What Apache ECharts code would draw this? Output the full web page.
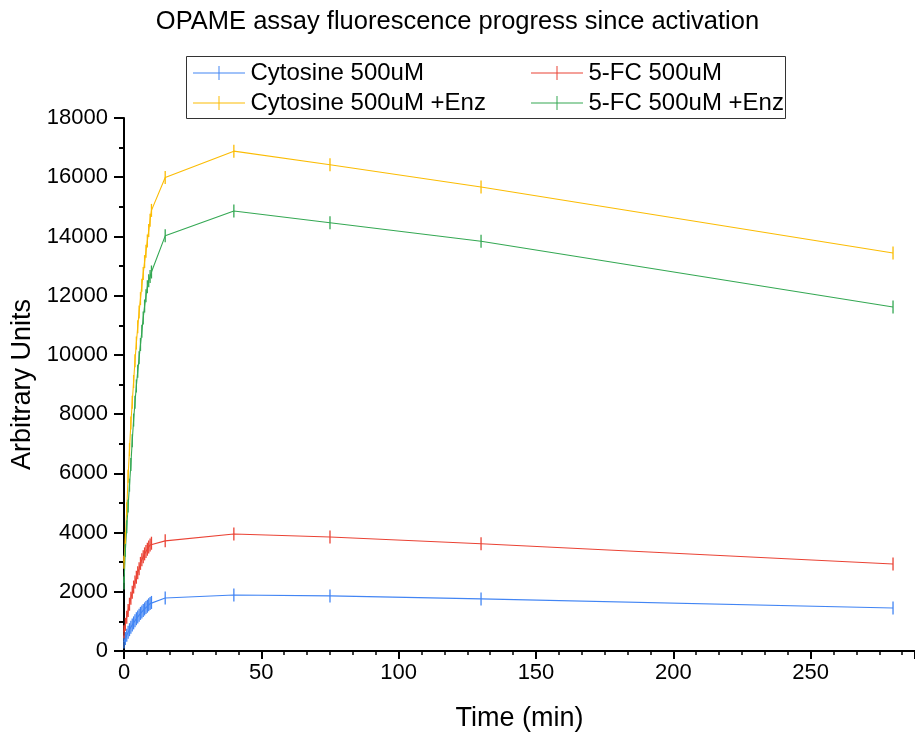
<!DOCTYPE html>
<html>
<head>
<meta charset="utf-8">
<script src="https://cdn.jsdelivr.net/npm/echarts@6/dist/echarts.min.js"></script>
<style>
  html, body { margin: 0; padding: 0; background: #fff; }
  #chart { width: 915px; height: 738px; }
</style>
</head>
<body>
<div id="chart"></div>
<script>
// sampling times (min): every 0.5 min for the first 10 min, then sparse reads
const time = [0, 0.5, 1, 1.5, 2, 2.5, 3, 3.5, 4, 4.5, 5, 5.5, 6, 6.5, 7, 7.5, 8, 8.5, 9, 9.5, 10, 15, 40, 75, 130, 280];

const cytosine    = [300, 420, 530, 630, 720, 800, 880, 950, 1020, 1090, 1150, 1210, 1270, 1320, 1370, 1420, 1470, 1510, 1560, 1600, 1640, 1790, 1890, 1860, 1760, 1450];
const fc          = [650, 900, 1140, 1370, 1580, 1780, 1980, 2160, 2330, 2490, 2640, 2780, 2960, 3080, 3180, 3280, 3360, 3440, 3510, 3580, 3640, 3720, 3950, 3850, 3620, 2940];
const cytosineEnz = [3000, 3800, 4800, 5900, 6800, 7700, 8400, 9100, 9800, 10400, 10950, 11450, 11900, 12350, 12750, 13150, 13500, 13850, 14200, 14550, 14880, 15990, 16880, 16420, 15670, 13440];
const fcEnz       = [2300, 3400, 4200, 4900, 5600, 6300, 7100, 7800, 8400, 8950, 9450, 9900, 10350, 10800, 11250, 11650, 12000, 12300, 12500, 12650, 12800, 14020, 14860, 14460, 13840, 11620];

const seriesNames = ['Cytosine 500uM', '5-FC 500uM', 'Cytosine 500uM +Enz', '5-FC 500uM +Enz'];
const seriesColors = ['#4285f4', '#ea4335', '#fbbc04', '#34a853'];

const FONT = '"Liberation Sans", Arial, sans-serif';

function pairs(vals) {
  return time.map((t, i) => [t, vals[i]]);
}

// legend icon: a line with a vertical tick through the middle
const legendIcon = 'path://M0,6.5H52V7.5H0Z M25.5,0H26.5V14H25.5Z';

function makeSeries(name, vals, color) {
  return {
    name: name,
    type: 'line',
    data: pairs(vals),
    symbol: 'rect',
    symbolSize: [1.3, 13],
    showAllSymbol: true,
    color: color,
    lineStyle: { width: 1.1, color: color },
    itemStyle: { color: color },
    emphasis: { disabled: true },
    animation: false
  };
}

const legendBase = {
  orient: 'vertical',
  icon: legendIcon,
  itemWidth: 53,
  itemHeight: 14,
  itemGap: 6,
  textStyle: { color: '#000', fontSize: 24, fontFamily: FONT, padding: [0, 0, 0, 0] }
};

const chart = echarts.init(document.getElementById('chart'), null, { renderer: 'canvas' });

chart.setOption({
  backgroundColor: '#fff',
  animation: false,
  title: {
    text: 'OPAME assay fluorescence progress since activation',
    left: 'center',
    top: 4,
    textStyle: { color: '#000', fontSize: 25.5, fontWeight: 'normal', fontFamily: FONT }
  },
  legend: [
    Object.assign({}, legendBase, { left: 188, top: 56, data: [seriesNames[0], seriesNames[2]] }),
    Object.assign({}, legendBase, { left: 526, top: 56, data: [seriesNames[1], seriesNames[3]] })
  ],
  graphic: [{
    type: 'rect',
    shape: { x: 186.5, y: 56.5, width: 599, height: 62 },
    style: { fill: 'none', stroke: '#333', lineWidth: 1 },
    silent: true
  }],
  grid: { left: 124, right: 0, top: 118, bottom: 87, containLabel: false },
  xAxis: {
    type: 'value',
    min: 0,
    max: 288,
    interval: 50,
    name: 'Time (min)',
    nameLocation: 'middle',
    nameGap: 54,
    nameTextStyle: { color: '#000', fontSize: 27, fontFamily: FONT },
    axisLine: { onZero: false, lineStyle: { color: '#000', width: 2 } },
    axisTick: { show: true, length: 8, lineStyle: { color: '#000', width: 2 } },
    minorTick: { show: true, splitNumber: 6, length: 4, lineStyle: { color: '#000', width: 1.5 } },
    axisLabel: { color: '#000', fontSize: 22, fontFamily: FONT, margin: 11, showMaxLabel: false },
    splitLine: { show: false }
  },
  yAxis: {
    type: 'value',
    min: 0,
    max: 18000,
    interval: 2000,
    name: 'Arbitrary Units',
    nameLocation: 'middle',
    nameGap: 79,
    nameTextStyle: { color: '#000', fontSize: 27, fontFamily: FONT },
    axisLine: { show: true, onZero: false, lineStyle: { color: '#000', width: 2 } },
    axisTick: { show: true, length: 10, lineStyle: { color: '#000', width: 2 } },
    minorTick: { show: true, splitNumber: 2, length: 5, lineStyle: { color: '#000', width: 2 } },
    axisLabel: { color: '#000', fontSize: 22, fontFamily: FONT, margin: 16, formatter: v => String(v) },
    splitLine: { show: false }
  },
  series: [
    makeSeries(seriesNames[0], cytosine, seriesColors[0]),
    makeSeries(seriesNames[1], fc, seriesColors[1]),
    makeSeries(seriesNames[2], cytosineEnz, seriesColors[2]),
    makeSeries(seriesNames[3], fcEnz, seriesColors[3])
  ]
});
</script>
</body>
</html>
